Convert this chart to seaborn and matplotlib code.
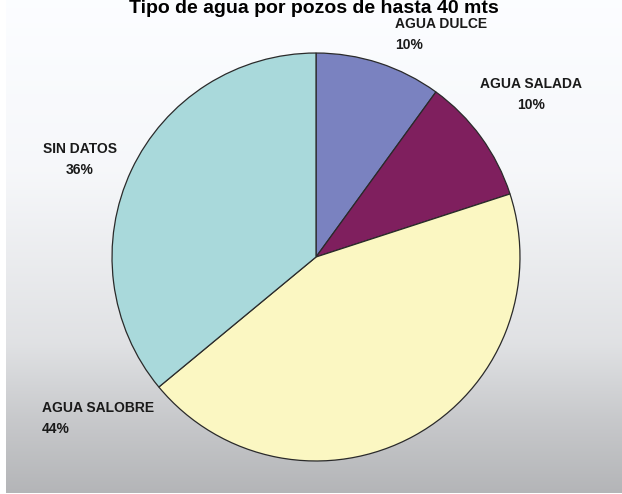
import numpy as np
import matplotlib
matplotlib.use("Agg")
import matplotlib.pyplot as plt
import seaborn as sns

TITLE = "Tipo de agua por pozos de hasta 40 mts"
CATEGORIES = ["AGUA DULCE", "AGUA SALADA", "AGUA SALOBRE", "SIN DATOS"]
PERCENTS = [10, 10, 44, 36]
COLORS = ["#7A82C0", "#7F1F5E", "#FBF7C2", "#A9D9DB"]

W, H = 622, 494

sns.set_style("white")
plt.rcParams["font.family"] = ["Liberation Sans", "DejaVu Sans"]

fig = plt.figure(figsize=(W / 100, H / 100), dpi=100)
fig.patch.set_facecolor("white")

# background gradient (white at top, grey at bottom)
bg = fig.add_axes([6 / W, 1 / H, 1 - 6 / W, 1 - 1 / H])
t = np.linspace(0, 1, 256)
shade = np.interp(t, [0, 0.35, 0.7, 0.85, 1.0], [252, 246, 224, 200, 180]) / 255.0
grad = np.dstack([shade, shade + 0.005, shade + 0.015])
grad = np.clip(grad, 0, 1).reshape(256, 1, 3)
bg.imshow(grad, aspect="auto", extent=[0, 1, 0, 1], origin="upper")
bg.set_axis_off()

# pie axis: centre (316, 257) px, radius 205 px
cx, cy, r = 316, 257, 205
ax = fig.add_axes([(cx - r) / W, (H - cy - r) / H, 2 * r / W, 2 * r / H])
ax.pie(
    PERCENTS,
    colors=COLORS,
    startangle=90,
    counterclock=False,
    radius=1.0,
    wedgeprops=dict(edgecolor="#2a2a2a", linewidth=0.9),
)
ax.set_xlim(-1.005, 1.005)
ax.set_ylim(-1.005, 1.005)
ax.set_axis_off()

# labels (pixel positions of text block top)
label_pos = [(395, 17, "left"), (531, 77, "center"), (42, 401, "left"), (80, 142, "center")]
for (x, y, ha), name, pct in zip(label_pos, CATEGORIES, PERCENTS):
    fig.text(x / W, 1 - y / H, f"{name}\n{pct}%", ha=ha, va="top",
             fontsize=10, fontweight="bold", color="#1a1a1a", linespacing=1.6)

fig.text(314 / W, 1 - 13 / H, TITLE, ha="center", va="baseline",
         fontsize=14, fontweight="bold", color="black")

fig.savefig("out.png", dpi=100)
